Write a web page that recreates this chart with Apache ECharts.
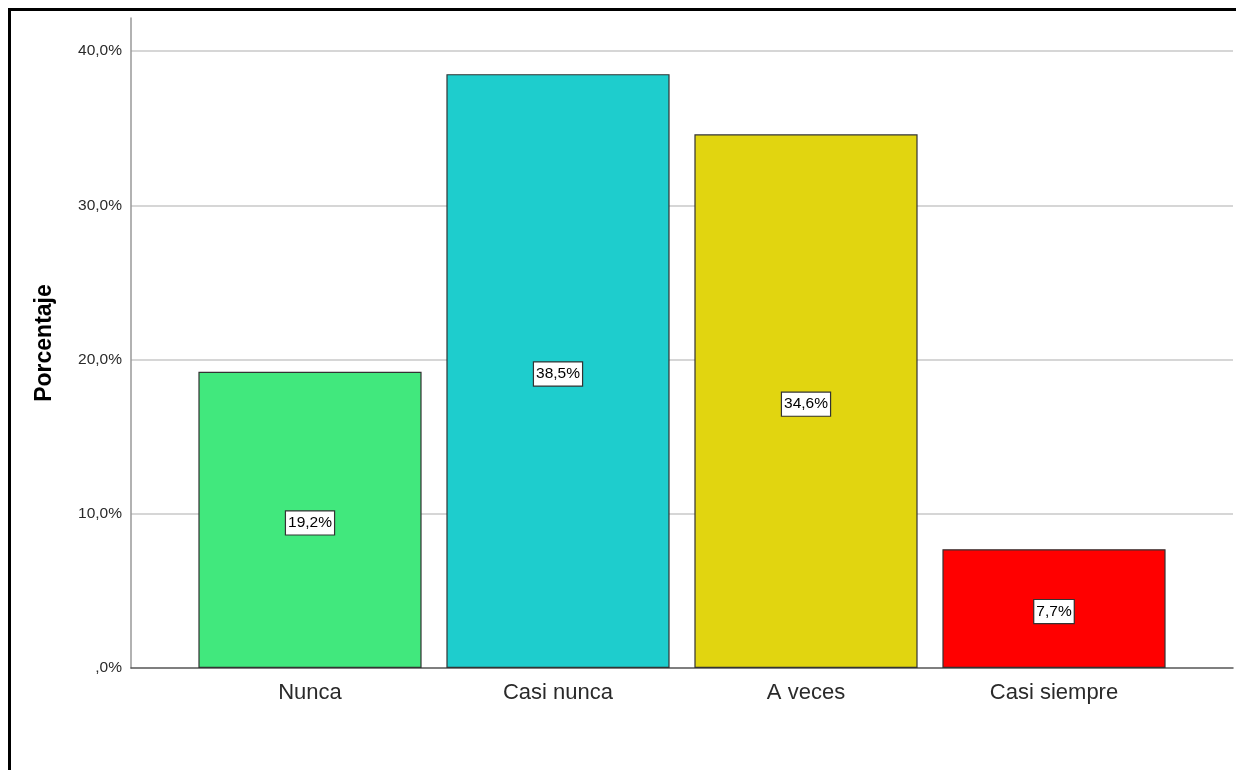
<!DOCTYPE html>
<html>
<head>
<meta charset="utf-8">
<script src="https://cdn.jsdelivr.net/npm/echarts@6/dist/echarts.min.js"></script>
<style>
  html, body { margin: 0; padding: 0; background: #fff; }
  #frame { position: absolute; left: 8px; top: 8px; width: 1240px; height: 780px;
           border-top: 3px solid #000; border-left: 3px solid #000; box-sizing: border-box; }
  #chart { position: absolute; left: 0; top: 0; width: 1236px; height: 770px; }
</style>
</head>
<body>
<div id="frame"></div>
<div id="chart"></div>
<script>
const categories = ['Nunca', 'Casi nunca', 'A veces', 'Casi siempre'];
const percentages = [19.2, 38.5, 34.6, 7.7];
const barColors = ['#41E87D', '#1ECDCD', '#E1D510', '#FF0000'];
const yTicks = [0, 10, 20, 30, 40];

const Y_MAX = 42.14;
const FONT = 'Liberation Sans, Arial, sans-serif';
const fmtPct = v => {
  const s = v.toFixed(1).replace('.', ',');
  return (s.startsWith('0,') ? s.slice(1) : s) + '%';
};

const chart = echarts.init(document.getElementById('chart'), null, { renderer: 'canvas' });

chart.setOption({
  animation: false,
  backgroundColor: 'transparent',
  grid: [
    // frame grid: axes and gridlines span the full plot width
    { left: 131, right: 3, top: 18, bottom: 102 },
    // bar grid: categories set in from both ends
    { left: 186, right: 58, top: 18, bottom: 102 }
  ],
  xAxis: [
    {
      gridIndex: 0, type: 'value', min: 0, max: 1,
      axisLine: { show: true, onZero: false, lineStyle: { color: '#555', width: 1.5 } },
      axisTick: { show: false }, axisLabel: { show: false }, splitLine: { show: false }
    },
    {
      gridIndex: 1, type: 'category', data: categories,
      axisLine: { show: false }, axisTick: { show: false },
      axisLabel: { margin: 14, color: '#2a2a2a', fontSize: 22, fontFamily: FONT }
    }
  ],
  yAxis: [
    {
      gridIndex: 0, type: 'value', min: 0, max: Y_MAX, interval: 10,
      name: 'Porcentaje', nameLocation: 'middle', nameGap: 75,
      nameTextStyle: { fontSize: 23, fontWeight: 'bold', color: '#000', fontFamily: FONT },
      axisLine: { show: true, lineStyle: { color: '#999', width: 1.5 } },
      axisTick: { show: false },
      axisLabel: {
        margin: 9, color: '#2a2a2a', fontSize: 15.5, showMaxLabel: false, fontFamily: FONT,
        formatter: v => yTicks.includes(v) ? fmtPct(v) : ''
      },
      splitLine: { show: true, showMaxLine: false, showMinLine: false,
                   lineStyle: { color: '#C8C8C8', width: 1.5 } }
    },
    {
      gridIndex: 1, type: 'value', min: 0, max: Y_MAX, interval: 10,
      show: false, splitLine: { show: false }
    }
  ],
  series: [{
    type: 'bar',
    xAxisIndex: 1, yAxisIndex: 1,
    barCategoryGap: '10%',
    z: 3,
    data: percentages.map((v, i) => ({
      value: v,
      itemStyle: { color: barColors[i], borderColor: '#333', borderWidth: 1.2 }
    })),
    label: {
      show: true, position: 'inside', offset: [0, 3],
      formatter: p => fmtPct(p.value),
      color: '#000', fontSize: 15.5, fontFamily: FONT,
      backgroundColor: '#fff', borderColor: '#333', borderWidth: 1.2,
      padding: [4, 2, 3, 2]
    }
  }]
});
</script>
</body>
</html>
